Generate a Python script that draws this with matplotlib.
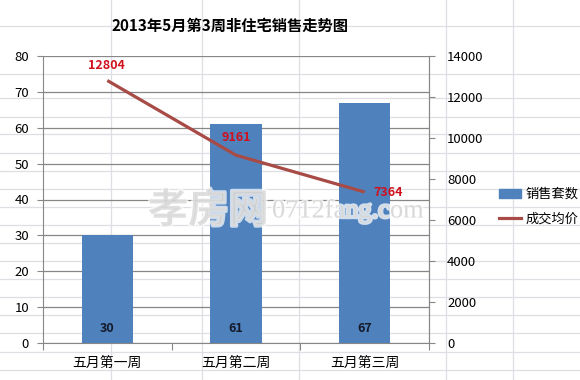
import matplotlib
matplotlib.use("Agg")
import matplotlib.pyplot as plt
import matplotlib.patheffects as pe
from matplotlib.lines import Line2D
import numpy as np

plt.rcParams['font.family'] = ['Noto Sans CJK SC', 'DejaVu Sans']

# ── data ──────────────────────────────────────────────────────────────────────
TITLE      = "2013年5月第3周非住宅销售走势图"
WEEKS      = ["五月第一周", "五月第二周", "五月第三周"]
UNITS_SOLD = [30, 61, 67]            # 销售套数 (left axis)
AVG_PRICE  = [12804, 9161, 7364]     # 成交均价 (right axis)
LEFT_TICKS  = list(range(0, 81, 10))
RIGHT_TICKS = list(range(0, 14001, 2000))

BAR_C   = "#4F81BD"
LINE_C  = "#A84A45"
LABEL_C = "#D0101C"
AXIS_C  = "#878787"
SHEET_C = "#DDDFE5"

W, H = 580, 380
fig = plt.figure(figsize=(W / 100, H / 100), dpi=100)
fig.patch.set_facecolor("white")

# spreadsheet cell lines behind the (transparent) chart
sheet_cols = [111, 202, 299, 446, 513]
sheet_rows = [26, 74, 98, 116.5, 134.5, 153, 171, 189, 207, 225, 243,
              261, 279, 297, 315, 333, 352, 370]
for xc in sheet_cols:
    fig.add_artist(Line2D([xc / W, xc / W], [0, 1], color=SHEET_C, lw=0.9, zorder=0))
for yr in sheet_rows:
    fig.add_artist(Line2D([0, 1], [1 - yr / H, 1 - yr / H], color=SHEET_C, lw=0.9, zorder=0))

ax = fig.add_axes([43 / W, 1 - 343 / H, (429 - 43) / W, (343 - 56) / H])
ax.set_facecolor("none")
x = np.arange(len(WEEKS))

ax.bar(x, UNITS_SOLD, width=0.4, color=BAR_C, zorder=2)
for xi, v in zip(x, UNITS_SOLD):
    ax.annotate(str(v), (xi, 0), xytext=(0, 15), textcoords="offset pixels",
                ha="center", va="center", fontsize=9, fontweight="bold",
                color="#141A2A", zorder=3)

ax.set_xlim(-0.5, len(WEEKS) - 0.5)
ax.set_ylim(0, 80)
ax.set_yticks(LEFT_TICKS)
ax.yaxis.grid(True, color=AXIS_C, lw=0.9)
ax.set_axisbelow(True)
ax.set_xticks(np.arange(-0.5, len(WEEKS), 1.0))
ax.set_xticklabels([])
ax.set_xticks(x, minor=True)
ax.set_xticklabels(WEEKS, minor=True, fontsize=10)
ax.tick_params(axis="x", which="major", length=5, color=AXIS_C, direction="out")
ax.tick_params(axis="x", which="minor", length=0, pad=9)
ax.tick_params(axis="y", length=4, color=AXIS_C, labelsize=9.5, pad=6)
for s in ax.spines.values():
    s.set_color(AXIS_C)
ax.spines["top"].set_visible(False)

ax2 = ax.twinx()
ax2.plot(x, AVG_PRICE, color=LINE_C, lw=2.3, zorder=4, solid_capstyle="butt")
ax2.set_ylim(0, 14000)
ax2.set_yticks(RIGHT_TICKS)
ax2.tick_params(axis="y", length=4, color=AXIS_C, labelsize=9.5, pad=9)
for s in ax2.spines.values():
    s.set_visible(False)
ax2.spines["right"].set_visible(True)
ax2.spines["right"].set_color(AXIS_C)

offsets = [(-1, 15, "center"), (0, 18, "center"), (9, 0, "left")]
for xi, v, (dx, dy, ha) in zip(x, AVG_PRICE, offsets):
    ax2.annotate(str(v), (xi, v), xytext=(dx, dy), textcoords="offset pixels",
                 ha=ha, va="center", fontsize=9, fontweight="bold",
                 color=LABEL_C, zorder=5)

fig.text(230 / W, 1 - 26 / H, TITLE, ha="center", va="center",
         fontsize=11, fontweight="bold")

handles = [plt.Rectangle((0, 0), 1, 1, color=BAR_C),
           Line2D([], [], color=LINE_C, lw=2.3)]
fig.legend(handles, ["销售套数", "成交均价"], loc="center left",
           bbox_to_anchor=(487 / W, 1 - 207 / H), frameon=False,
           fontsize=9.5, handlelength=1.7, handletextpad=0.3,
           labelspacing=0.9)

# site watermark
stroke = [pe.withStroke(linewidth=2.5, foreground="white")]
fig.text(148 / W, 1 - 211 / H, "孝房网", ha="left", va="center", fontsize=29,
         fontweight="bold", color="#D6D6D6", alpha=0.7, zorder=10,
         path_effects=stroke)
fig.text(272 / W, 1 - 211 / H, "0712fang.com", ha="left", va="center",
         fontsize=19, family=["Liberation Serif", "DejaVu Serif"],
         color="#D0D0D0", alpha=0.75, zorder=10, path_effects=stroke)

fig.savefig("out.png", dpi=100)
